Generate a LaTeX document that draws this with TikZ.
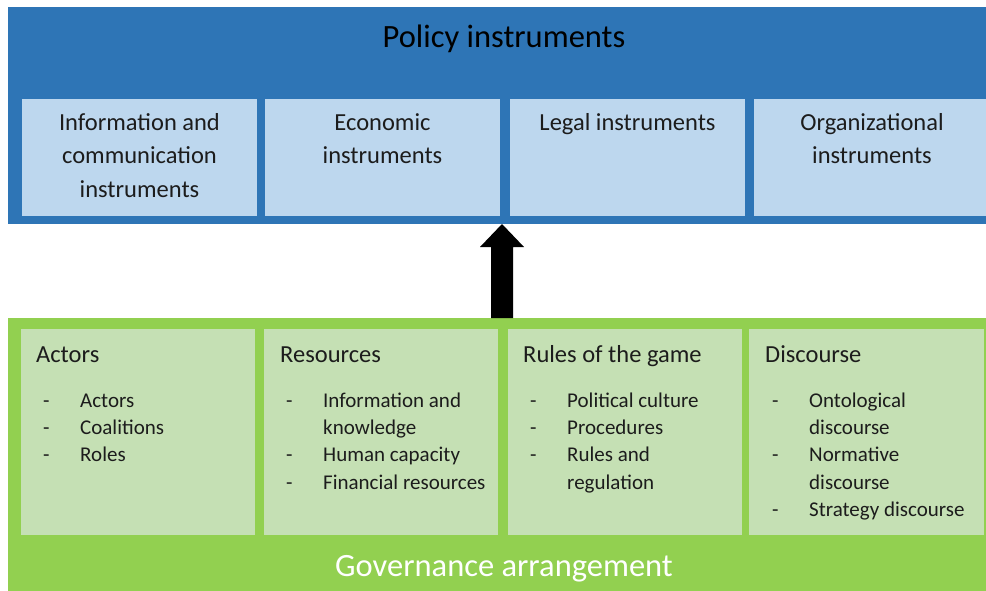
\documentclass[tikz,border=0pt]{standalone}
\usepackage{fontspec}
\setmainfont{Carlito}
\definecolor{polblue}{HTML}{2E75B6}
\definecolor{lightblue}{HTML}{BDD7EE}
\definecolor{govgreen}{HTML}{92D050}
\definecolor{lightgreen}{HTML}{C5E0B4}
\definecolor{txt}{HTML}{1C1C1C}
\begin{document}
\begin{tikzpicture}[x=1pt,y=-1pt,
  outerbox/.style={inner sep=0pt, outer sep=0pt, anchor=north west},
  bluebox/.style={fill=lightblue, inner sep=0pt, outer sep=0pt, anchor=north west, minimum width=235pt, minimum height=117pt},
  greenbox/.style={fill=lightgreen, inner sep=0pt, outer sep=0pt, anchor=north west, minimum width=234pt, minimum height=206pt},
  titletext/.style={anchor=base, inner sep=0pt, font=\fontsize{32.5}{39}\selectfont},
  boxtext/.style={anchor=base, inner sep=0pt, text=txt, font=\fontsize{24.5}{30}\selectfont},
  headtext/.style={anchor=base west, inner sep=0pt, text=txt, font=\fontsize{24.5}{30}\selectfont},
  itemtext/.style={anchor=base west, inner sep=0pt, text=txt, font=\fontsize{21}{26}\selectfont}
]
\useasboundingbox (0,0) rectangle (986,591);
\fill[white] (0,0) rectangle (986,591);

% Policy instruments block
\node[outerbox, fill=polblue, minimum width=978pt, minimum height=217pt] (pol) at (8,7) {};
\node[titletext, text=black] (poltitle) at (504,47.5) {Policy instruments};
\node[bluebox] (b1) at (22,99) {};
\node[bluebox] (b2) at (265,99) {};
\node[bluebox] (b3) at (510,99) {};
\node[bluebox, minimum width=232pt] (b4) at (754,99) {};
\node[boxtext] (b1a) at (139.5,131) {Information and};
\node[boxtext] (b1b) at (139.5,164) {communication};
\node[boxtext] (b1c) at (139.5,197) {instruments};
\node[boxtext] (b2a) at (382.5,131) {Economic};
\node[boxtext] (b2b) at (382.5,164) {instruments};
\node[boxtext] (b3a) at (627.5,131) {Legal instruments};
\node[boxtext] (b4a) at (872,131) {Organizational};
\node[boxtext] (b4b) at (872,164) {instruments};

% Governance arrangement block
\node[outerbox, fill=govgreen, minimum width=978pt, minimum height=273pt] (gov) at (8,318) {};
\node[titletext, text=white] (govtitle) at (504,576.5) {Governance arrangement};
\node[greenbox] (g1) at (21,329) {};
\node[greenbox] (g2) at (264,329) {};
\node[greenbox] (g3) at (508,329) {};
\node[greenbox, minimum width=235pt] (g4) at (749,329) {};

\node[headtext] (g1h) at (36,362.5) {Actors};
\node[itemtext] (g1i1) at (43,407.2) {\makebox[37pt][l]{-}Actors};
\node[itemtext] (g1i2) at (43,434.5) {\makebox[37pt][l]{-}Coalitions};
\node[itemtext] (g1i3) at (43,461.8) {\makebox[37pt][l]{-}Roles};

\node[headtext] (g2h) at (280,362.5) {Resources};
\node[itemtext] (g2i1) at (286,407.2) {\makebox[37pt][l]{-}Information and};
\node[itemtext] (g2i1b) at (323,434.5) {knowledge};
\node[itemtext] (g2i2) at (286,461.8) {\makebox[37pt][l]{-}Human capacity};
\node[itemtext] (g2i3) at (286,489.1) {\makebox[37pt][l]{-}Financial resources};

\node[headtext] (g3h) at (523,362.5) {Rules of the game};
\node[itemtext] (g3i1) at (530,407.2) {\makebox[37pt][l]{-}Political culture};
\node[itemtext] (g3i2) at (530,434.5) {\makebox[37pt][l]{-}Procedures};
\node[itemtext] (g3i3) at (530,461.8) {\makebox[37pt][l]{-}Rules and};
\node[itemtext] (g3i3b) at (567,489.1) {regulation};

\node[headtext] (g4h) at (765,362.5) {Discourse};
\node[itemtext] (g4i1) at (772,407.2) {\makebox[37pt][l]{-}Ontological};
\node[itemtext] (g4i1b) at (809,434.5) {discourse};
\node[itemtext] (g4i2) at (772,461.8) {\makebox[37pt][l]{-}Normative};
\node[itemtext] (g4i2b) at (809,489.1) {discourse};
\node[itemtext] (g4i3) at (772,516.4) {\makebox[37pt][l]{-}Strategy discourse};

% Block arrow from governance to policy
\coordinate (atip) at (502,224);
\coordinate (abase) at (502,318);
\fill[black] (atip) -- ([xshift=22pt,yshift=-23pt]atip) -- ([xshift=11pt,yshift=-23pt]atip)
  -- ([xshift=11pt]abase) -- ([xshift=-11pt]abase)
  -- ([xshift=-11pt,yshift=-23pt]atip) -- ([xshift=-22pt,yshift=-23pt]atip) -- cycle;
\end{tikzpicture}
\end{document}
